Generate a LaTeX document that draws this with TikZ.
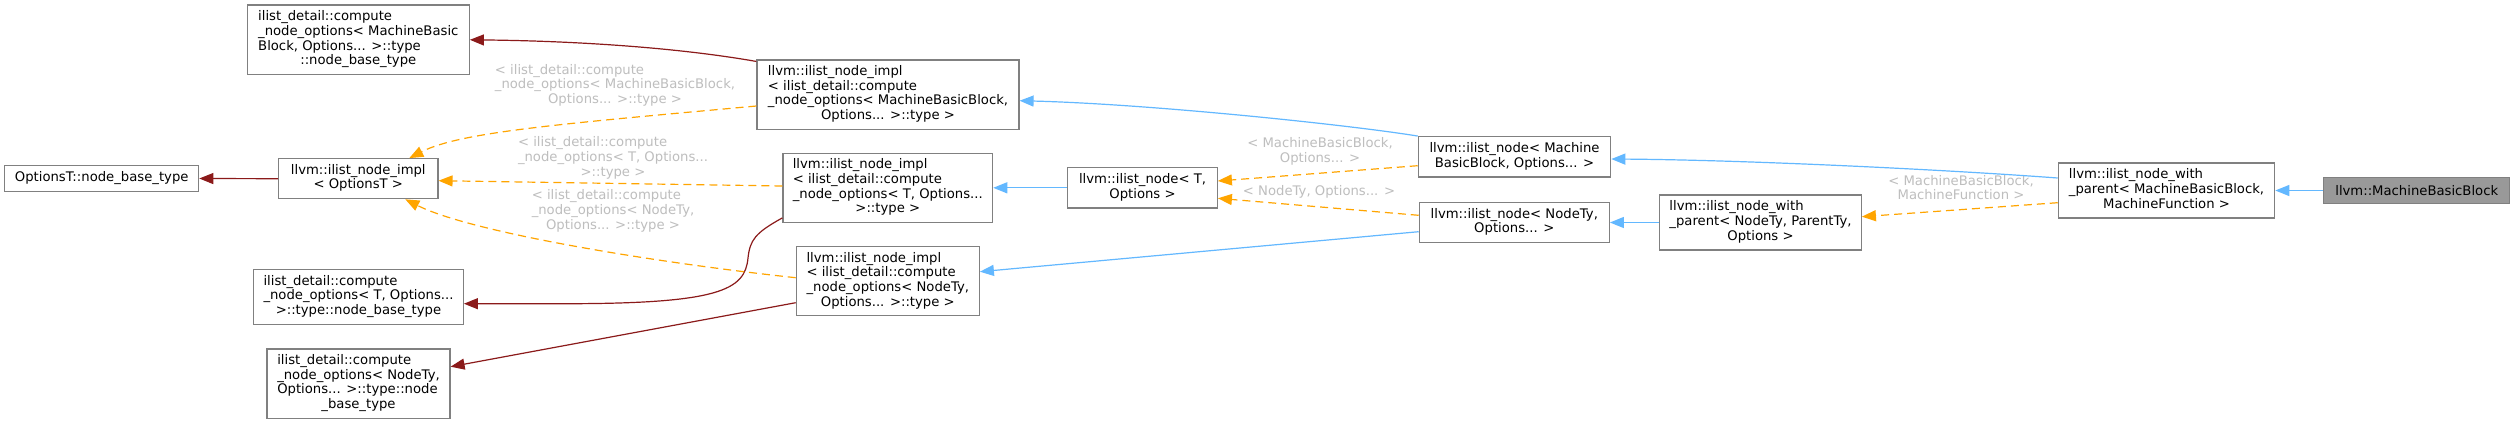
\documentclass[tikz,border=0pt]{standalone}
\usepackage{fontspec}
\setmainfont{DejaVu Sans}
\usetikzlibrary{arrows.meta}
\definecolor{inh}{HTML}{63B8FF}
\definecolor{tpl}{HTML}{FFA500}
\definecolor{prot}{HTML}{8B1A1A}
\definecolor{bord}{HTML}{808080}
\definecolor{lbl}{HTML}{BEBEBE}
\definecolor{curfill}{HTML}{999999}
\newcommand{\ml}[2]{\begin{tabular}{@{}l@{}}#1\\\multicolumn{1}{@{}c@{}}{#2}\end{tabular}}
\begin{document}
\begin{tikzpicture}[x=1pt,y=-1pt,
  font=\fontsize{13.2}{14.7}\selectfont,
  box/.style={draw=bord, line width=1.2pt, fill=white, inner sep=0pt, text=black},
  curbox/.style={box, fill=curfill},
  lab/.style={text=lbl, inner sep=0pt},
  tipx/.style={-{Triangle[length=14pt,width=11pt]}},
  inhe/.style={color=inh, line width=1.2pt, tipx},
  tmpl/.style={color=tpl, line width=1.2pt, dash pattern=on 8pt off 5pt, tipx},
  prote/.style={color=prot, line width=1.2pt, tipx}]
\useasboundingbox[fill=white] (0,0) rectangle (2515,424);

% nodes
\node[box, minimum width=222pt, minimum height=69.7pt] (cmpMBB) at (358.3,39.8)
  {\ml{ilist\_detail::compute\\\_node\_options< MachineBasic\\Block, Options... >::type}{::node\_base\_type}};
\node[box, minimum width=194pt, minimum height=25.6pt] (optT) at (101.7,178.5)
  {OptionsT::node\_base\_type};
\node[box, minimum width=159.3pt, minimum height=40pt] (implO) at (358.3,178.7)
  {\ml{llvm::ilist\_node\_impl}{< OptionsT >}};
\node[box, minimum width=209.6pt, minimum height=54.6pt] (cmpT) at (358.5,297)
  {\ml{ilist\_detail::compute\\\_node\_options< T, Options...}{>::type::node\_base\_type}};
\node[box, minimum width=183pt, minimum height=69.3pt] (cmpN) at (358.5,383.7)
  {\ml{ilist\_detail::compute\\\_node\_options< NodeTy,\\Options... >::type::node}{\_base\_type}};
\node[box, minimum width=262pt, minimum height=69.3pt] (implMBB) at (888,94.7)
  {\ml{llvm::ilist\_node\_impl\\< ilist\_detail::compute\\\_node\_options< MachineBasicBlock,}{Options... >::type >}};
\node[box, minimum width=209.7pt, minimum height=69pt] (implT) at (887.8,187.8)
  {\ml{llvm::ilist\_node\_impl\\< ilist\_detail::compute\\\_node\_options< T, Options...}{>::type >}};
\node[box, minimum width=183pt, minimum height=69pt] (implN) at (887.8,281.2)
  {\ml{llvm::ilist\_node\_impl\\< ilist\_detail::compute\\\_node\_options< NodeTy,}{Options... >::type >}};
\node[box, minimum width=149.6pt, minimum height=40.3pt] (nodeT) at (1142.5,187.8)
  {\ml{llvm::ilist\_node< T,}{Options >}};
\node[box, minimum width=192.4pt, minimum height=40.3pt] (nodeMBB) at (1514.5,156.8)
  {\ml{llvm::ilist\_node< Machine}{BasicBlock, Options... >}};
\node[box, minimum width=190pt, minimum height=40.4pt] (nodeN) at (1514.3,222.5)
  {\ml{llvm::ilist\_node< NodeTy,}{Options... >}};
\node[box, minimum width=201.6pt, minimum height=55pt] (nwpN) at (1760.5,222.5)
  {\ml{llvm::ilist\_node\_with\\\_parent< NodeTy, ParentTy,}{Options >}};
\node[box, minimum width=216.4pt, minimum height=55pt] (nwpMBB) at (2166.5,190.5)
  {\ml{llvm::ilist\_node\_with\\\_parent< MachineBasicBlock,}{MachineFunction >}};
\node[curbox, minimum width=186pt, minimum height=25.6pt] (MBB) at (2416.7,190.5)
  {llvm::MachineBasicBlock};

% edge labels
\node[lab] (l1) at (615,86) {\ml{< ilist\_detail::compute\\\_node\_options< MachineBasicBlock,}{Options... >::type >}};
\node[lab] (l2) at (613,158.5) {\ml{< ilist\_detail::compute\\\_node\_options< T, Options...}{>::type >}};
\node[lab] (l3) at (613,211.7) {\ml{< ilist\_detail::compute\\\_node\_options< NodeTy,}{Options... >::type >}};
\node[lab] (l4) at (1320,152) {\ml{< MachineBasicBlock,}{Options... >}};
\node[lab] (l5) at (1319,191.7) {< NodeTy, Options... >};
\node[lab] (l6) at (1961,189.7) {\ml{< MachineBasicBlock,}{MachineFunction >}};

% protected (dark red)
\draw[prote] (implO.west) -- (optT.east);
\draw[prote] ([yshift=-2pt]implMBB.north west) .. controls (680,48) and (580,41) .. (cmpMBB.east);
\draw[prote] ([yshift=5pt]implT.south west) .. controls (755,233) and (750,240) .. (748,258)
   .. controls (745,290) and (720,304) .. (560,303.7) -- ([yshift=-6.7pt]cmpT.east);
\draw[prote] ([yshift=-21.5pt]implN.west) -- ([yshift=17pt]cmpN.east);

% template instantiation (orange dashed)
\draw[tmpl] ([yshift=-11.3pt]implMBB.west) .. controls (560,124) and (460,132) .. ([xshift=51pt]implO.north);
\draw[tmpl] ([yshift=1.8pt]implT.west) -- ([yshift=-2pt]implO.east);
\draw[tmpl] ([yshift=3.5pt]implN.west) .. controls (650,262) and (470,232) .. ([xshift=47pt]implO.south);
\draw[tmpl] ([yshift=-8.9pt]nodeMBB.west) -- ([yshift=6.8pt]nodeT.east);
\draw[tmpl] ([yshift=7.2pt]nodeN.west) -- ([yshift=-10.5pt]nodeT.east);
\draw[tmpl] ([yshift=-12.2pt]nwpMBB.west) -- ([yshift=5.8pt]nwpN.east);

% public inheritance (blue)
\draw[inhe] (nodeT.west) -- (implT.east);
\draw[inhe] (nodeMBB.north west) .. controls (1350,125) and (1150,104) .. ([yshift=-6pt]implMBB.east);
\draw[inhe] ([yshift=-9.2pt]nodeN.west) -- ([yshift=9.5pt]implN.east);
\draw[inhe] (nwpN.west) -- (nodeN.east);
\draw[inhe] ([yshift=12.5pt]nwpMBB.west) .. controls (1950,170) and (1750,160) .. ([yshift=-2.2pt]nodeMBB.east);
\draw[inhe] (MBB.west) -- (nwpMBB.east);
\end{tikzpicture}
\end{document}
